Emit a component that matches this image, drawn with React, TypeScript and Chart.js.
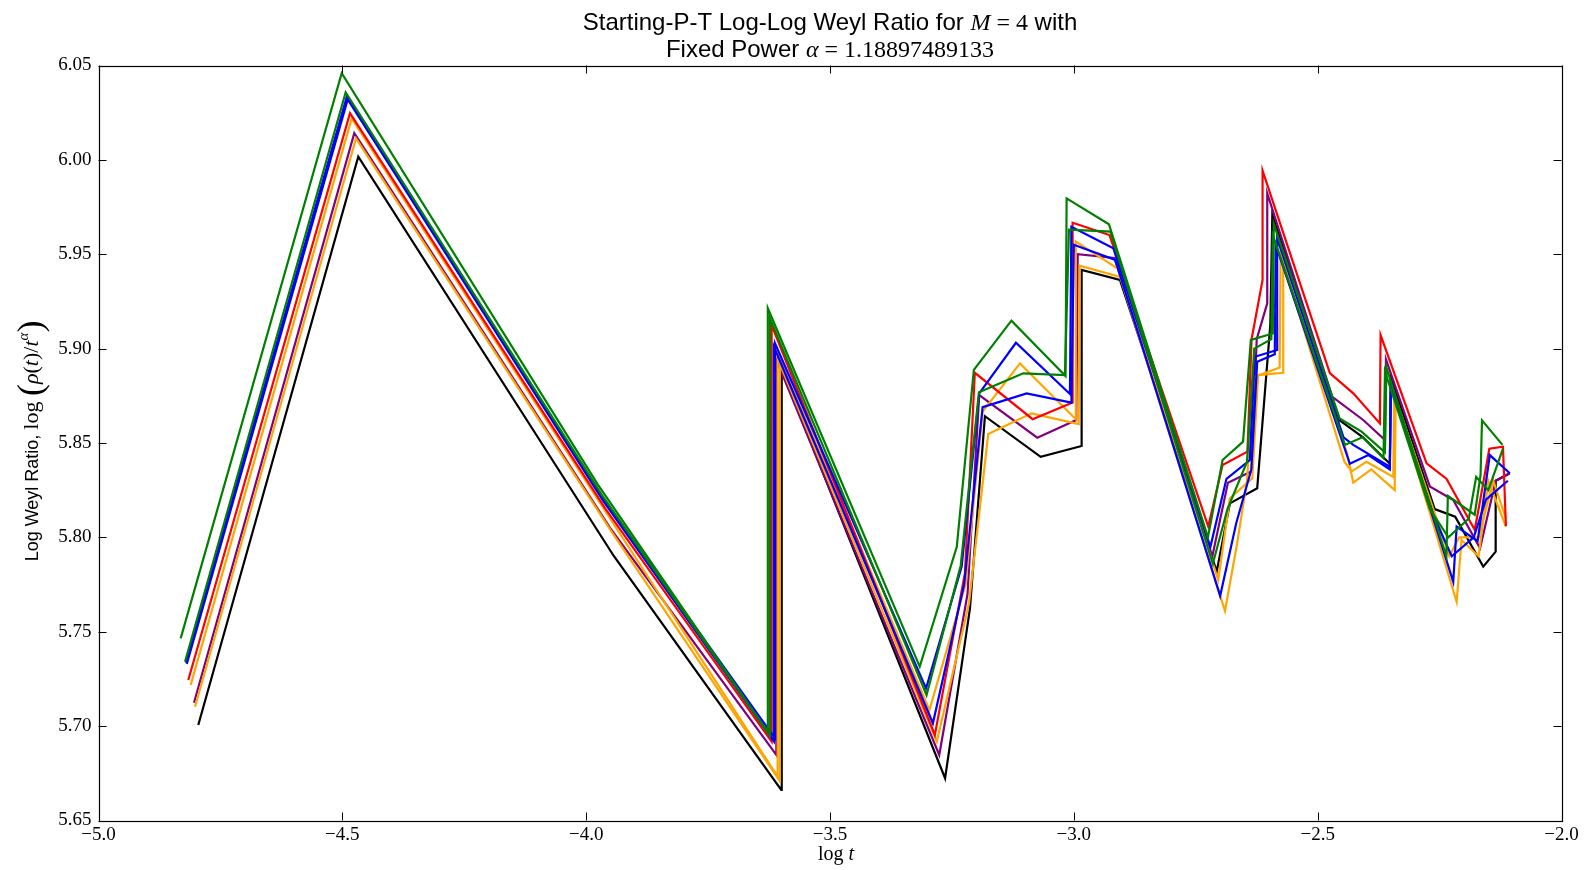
import React, { useEffect, useRef } from "react";
import { Chart, registerables } from "chart.js";

Chart.register(...registerables);

const X_MIN = -5.0;
const X_MAX = -2.0;
const Y_MIN = 5.65;
const Y_MAX = 6.05;
const X_TICKS = [-5.0, -4.5, -4.0, -3.5, -3.0, -2.5, -2.0];
const Y_TICKS = [5.65, 5.7, 5.75, 5.8, 5.85, 5.9, 5.95, 6.0, 6.05];

const green1X = [-4.8315, -4.5013, -3.976, -3.628, -3.6275, -3.316, -3.24, -3.205, -3.128, -3.017, -3.0148, -2.928, -2.725, -2.695, -2.653, -2.637, -2.592, -2.59, -2.455, -2.41, -2.362, -2.359, -2.236, -2.233, -2.178, -2.166, -2.163, -2.121];
const green1Y = [5.7465, 6.0459, 5.828, 5.697, 5.9214, 5.7315, 5.795, 5.8887, 5.9148, 5.8855, 5.9796, 5.9659, 5.8, 5.841, 5.8507, 5.9046, 5.908, 5.966, 5.863, 5.856, 5.845, 5.89, 5.79, 5.822, 5.812, 5.833, 5.862, 5.849];

const green2X = [-4.8226, -4.4932, -3.968, -3.6232, -3.6232, -3.302, -3.232, -3.1946, -3.1037, -3.0183, -3.01, -2.925, -2.715, -2.685, -2.645, -2.63, -2.595, -2.592, -2.444, -2.408, -2.365, -2.362, -2.27, -2.232, -2.19, -2.175, -2.15, -2.12];
const green2Y = [5.7341, 6.0358, 5.8225, 5.695, 5.916, 5.7165, 5.785, 5.8769, 5.8869, 5.886, 5.963, 5.962, 5.786, 5.815, 5.84, 5.9, 5.905, 5.96, 5.849, 5.853, 5.842, 5.888, 5.815, 5.8, 5.81, 5.832, 5.825, 5.847];

const blue1X = [-4.8206, -4.4905, -3.966, -3.6128, -3.6128, -3.303, -3.23, -3.194, -3.1187, -3.008, -3.005, -2.919, -2.72, -2.687, -2.639, -2.629, -2.583, -2.583, -2.447, -2.427, -2.352, -2.35, -2.222, -2.215, -2.172, -2.147, -2.106];
const blue1Y = [5.7336, 6.0338, 5.821, 5.6935, 5.9028, 5.72, 5.7845, 5.8763, 5.9031, 5.876, 5.9646, 5.9532, 5.795, 5.831, 5.841, 5.8957, 5.8993, 5.9584, 5.853, 5.849, 5.8374, 5.8816, 5.7765, 5.8057, 5.798, 5.8436, 5.834];

const blue2X = [-4.819, -4.489, -3.964, -3.615, -3.615, -3.289, -3.225, -3.187, -3.0968, -3.005, -3.0, -2.915, -2.7, -2.667, -2.636, -2.624, -2.588, -2.586, -2.434, -2.396, -2.352, -2.35, -2.26, -2.225, -2.18, -2.155, -2.11];
const blue2Y = [5.733, 6.032, 5.819, 5.692, 5.901, 5.7015, 5.775, 5.869, 5.8763, 5.8714, 5.955, 5.947, 5.769, 5.8075, 5.836, 5.893, 5.897, 5.955, 5.839, 5.8436, 5.836, 5.88, 5.81, 5.79, 5.8, 5.82, 5.83];

const redX = [-4.8159, -4.4843, -3.96, -3.6197, -3.6197, -3.285, -3.2233, -3.203, -3.0845, -3.0025, -3.0025, -2.927, -2.7244, -2.695, -2.644, -2.6355, -2.613, -2.613, -2.475, -2.427, -2.3724, -2.371, -2.2767, -2.2356, -2.178, -2.17, -2.148, -2.12, -2.114];
const redY = [5.7244, 6.0247, 5.815, 5.6918, 5.9125, 5.6953, 5.781, 5.8872, 5.8626, 5.8714, 5.9667, 5.9602, 5.8057, 5.8383, 5.8454, 5.905, 5.9364, 5.9943, 5.887, 5.8763, 5.8604, 5.9072, 5.8392, 5.831, 5.804, 5.815, 5.847, 5.848, 5.806];

const orange1X = [-4.811, -4.4808, -3.956, -3.6074, -3.6074, -3.296, -3.222, -3.187, -3.1105, -2.996, -2.996, -2.906, -2.704, -2.68, -2.634, -2.622, -2.5706, -2.5706, -2.44, -2.427, -2.39, -2.342, -2.34, -2.215, -2.205, -2.17, -2.15, -2.114];
const orange1Y = [5.7218, 6.022, 5.812, 5.6732, 5.8984, 5.7085, 5.775, 5.8666, 5.8922, 5.8626, 5.9567, 5.9417, 5.7774, 5.8207, 5.8313, 5.886, 5.8872, 5.945, 5.845, 5.829, 5.836, 5.8251, 5.873, 5.7659, 5.7986, 5.79, 5.83, 5.8057];

const orange2X = [-4.8021, -4.472, -3.948, -3.603, -3.603, -3.281, -3.215, -3.1755, -3.0866, -2.99, -2.988, -2.905, -2.69, -2.665, -2.645, -2.63, -2.578, -2.576, -2.445, -2.43, -2.4, -2.345, -2.343, -2.23, -2.21, -2.17, -2.14, -2.114];
const orange2Y = [5.7103, 6.0114, 5.803, 5.671, 5.892, 5.6918, 5.765, 5.8548, 5.8657, 5.86, 5.944, 5.938, 5.761, 5.797, 5.83, 5.885, 5.89, 5.95, 5.84, 5.835, 5.84, 5.832, 5.876, 5.79, 5.8, 5.8, 5.83, 5.81];

const purpleX = [-4.8042, -4.4755, -3.951, -3.61, -3.61, -3.276, -3.218, -3.194, -3.075, -2.995, -2.992, -2.917, -2.716, -2.684, -2.6355, -2.625, -2.6034, -2.6034, -2.47, -2.4066, -2.362, -2.36, -2.27, -2.222, -2.167, -2.135, -2.106];
const purpleY = [5.7124, 6.0141, 5.805, 5.6847, 5.894, 5.6847, 5.77, 5.8754, 5.8528, 5.8622, 5.95, 5.948, 5.79, 5.829, 5.835, 5.905, 5.924, 5.9823, 5.8745, 5.8622, 5.8516, 5.8943, 5.827, 5.8198, 5.7942, 5.83, 5.8339];

const blackX = [-4.7954, -4.4673, -3.943, -3.6, -3.599, -3.264, -3.213, -3.1823, -3.068, -2.984, -2.984, -2.9055, -2.707, -2.68, -2.624, -2.597, -2.593, -2.455, -2.407, -2.352, -2.35, -2.26, -2.218, -2.1605, -2.135, -2.135, -2.106];
const blackY = [5.7006, 6.0017, 5.79, 5.6662, 5.8887, 5.6724, 5.7624, 5.8642, 5.8427, 5.8484, 5.9417, 5.9364, 5.782, 5.818, 5.826, 5.913, 5.9708, 5.862, 5.853, 5.839, 5.885, 5.815, 5.811, 5.7845, 5.7924, 5.83, 5.834];

const SERIES = [
  { label: "s1", color: "#008000", xs: green1X, ys: green1Y },
  { label: "s2", color: "#008000", xs: green2X, ys: green2Y },
  { label: "s3", color: "#0000ff", xs: blue1X, ys: blue1Y },
  { label: "s4", color: "#0000ff", xs: blue2X, ys: blue2Y },
  { label: "s5", color: "#ff0000", xs: redX, ys: redY },
  { label: "s6", color: "#ffa500", xs: orange1X, ys: orange1Y },
  { label: "s7", color: "#ffa500", xs: orange2X, ys: orange2Y },
  { label: "s8", color: "#800080", xs: purpleX, ys: purpleY },
  { label: "s9", color: "#000000", xs: blackX, ys: blackY },
];

const SANS = "'Liberation Sans', Arial, sans-serif";
const SERIF = "'Liberation Serif', 'DejaVu Serif', serif";

type Run = { t: string; f: string; dy?: number };

function runsWidth(ctx: CanvasRenderingContext2D, runs: Run[]) {
  let total = 0;
  const ws = runs.map((r) => {
    ctx.font = r.f;
    const w = ctx.measureText(r.t).width;
    total += w;
    return w;
  });
  return { total, ws };
}

function drawRuns(ctx: CanvasRenderingContext2D, runs: Run[], cx: number, base: number) {
  const { total, ws } = runsWidth(ctx, runs);
  let x = cx - total / 2;
  runs.forEach((r, i) => {
    ctx.font = r.f;
    ctx.fillText(r.t, x, base + (r.dy || 0));
    x += ws[i];
  });
}

const fmt = (v: number, d: number) => v.toFixed(d).replace("-", "\u2212");

const decorPlugin = {
  id: "decor",
  afterDraw(chart: any) {
    const { ctx, chartArea: a, scales } = chart;
    ctx.save();
    ctx.strokeStyle = "#000";
    ctx.lineWidth = 1.2;
    ctx.strokeRect(Math.round(a.left) + 0.5, Math.round(a.top) + 0.5, Math.round(a.right - a.left), Math.round(a.bottom - a.top));
    const L = 8;
    ctx.lineWidth = 1;
    ctx.beginPath();
    X_TICKS.forEach((v) => {
      const px = Math.round(scales.x.getPixelForValue(v)) + 0.5;
      ctx.moveTo(px, a.bottom);
      ctx.lineTo(px, a.bottom - L);
      ctx.moveTo(px, a.top);
      ctx.lineTo(px, a.top + L);
    });
    Y_TICKS.forEach((v) => {
      const py = Math.round(scales.y.getPixelForValue(v)) + 0.5;
      ctx.moveTo(a.left, py);
      ctx.lineTo(a.left + L, py);
      ctx.moveTo(a.right, py);
      ctx.lineTo(a.right - L, py);
    });
    ctx.stroke();

    ctx.fillStyle = "#000";
    ctx.textBaseline = "alphabetic";
    ctx.textAlign = "left";
    const cx = (a.left + a.right) / 2;
    drawRuns(ctx, [
      { t: "Starting-P-T Log-Log Weyl Ratio for ", f: `24px ${SANS}` },
      { t: "M", f: `italic 24px ${SERIF}` },
      { t: " = 4", f: `24px ${SERIF}` },
      { t: " with", f: `24px ${SANS}` },
    ], cx, 30);
    drawRuns(ctx, [
      { t: "Fixed Power ", f: `24px ${SANS}` },
      { t: "\u03b1", f: `italic 24px ${SERIF}` },
      { t: " = 1.18897489133", f: `24px ${SERIF}` },
    ], cx, 57);

    drawRuns(ctx, [
      { t: "log ", f: `20px ${SERIF}` },
      { t: "t", f: `italic 20px ${SERIF}` },
    ], cx + 6, 860);

    ctx.translate(38, (a.top + a.bottom) / 2 - 2);
    ctx.rotate(-Math.PI / 2);
    drawRuns(ctx, [
      { t: "Log Weyl Ratio, ", f: `18px ${SANS}` },
      { t: "log ", f: `22px ${SERIF}` },
      { t: "(", f: `36px ${SERIF}`, dy: 4 },
      { t: "\u03c1", f: `italic 22px ${SERIF}` },
      { t: "(", f: `22px ${SERIF}` },
      { t: "t", f: `italic 22px ${SERIF}` },
      { t: ")/", f: `22px ${SERIF}` },
      { t: "t", f: `italic 22px ${SERIF}` },
      { t: "\u03b1", f: `italic 15px ${SERIF}`, dy: -10 },
      { t: ")", f: `36px ${SERIF}`, dy: 4 },
    ], 0, 0);
    ctx.restore();
  },
};

export default function App() {
  const ref = useRef<HTMLCanvasElement | null>(null);
  useEffect(() => {
    if (!ref.current) return;
    const chart = new Chart(ref.current, {
      type: "line",
      data: {
        datasets: SERIES.map((s) => ({
          label: s.label,
          data: s.xs.map((x, i) => ({ x, y: s.ys[i] })),
          borderColor: s.color,
          backgroundColor: s.color,
          borderWidth: 2.2,
          pointRadius: 0,
          fill: false,
          tension: 0,
        })),
      },
      options: {
        responsive: false,
        animation: false,
        devicePixelRatio: 1,
        layout: { padding: { left: 0, top: 65.5, right: 23.5, bottom: 0 } },
        plugins: { legend: { display: false }, title: { display: false }, tooltip: { enabled: false } },
        scales: {
          x: {
            type: "linear",
            min: X_MIN,
            max: X_MAX,
            afterBuildTicks: (s: any) => { s.ticks = X_TICKS.map((v) => ({ value: v })); },
            afterFit: (s: any) => { s.height = 49.5; },
            grid: { display: false, drawTicks: false },
            border: { display: false },
            ticks: {
              padding: 3,
              color: "#000",
              font: { family: SERIF, size: 19 },
              maxRotation: 0,
              autoSkip: false,
              callback: (v: any) => fmt(Number(v), 1),
            },
          },
          y: {
            type: "linear",
            min: Y_MIN,
            max: Y_MAX,
            afterBuildTicks: (s: any) => { s.ticks = Y_TICKS.map((v) => ({ value: v })); },
            afterFit: (s: any) => { s.width = 98.5; },
            grid: { display: false, drawTicks: false },
            border: { display: false },
            ticks: {
              padding: 7,
              color: "#000",
              font: { family: SERIF, size: 19 },
              autoSkip: false,
              callback: (v: any) => fmt(Number(v), 2),
            },
          },
        },
      },
      plugins: [decorPlugin],
    });
    return () => chart.destroy();
  }, []);
  return (
    <div style={{ position: "fixed", left: 0, top: 0, width: 1585, height: 870, background: "#fff" }}>
      <canvas ref={ref} width={1585} height={870} style={{ display: "block" }} />
    </div>
  );
}
